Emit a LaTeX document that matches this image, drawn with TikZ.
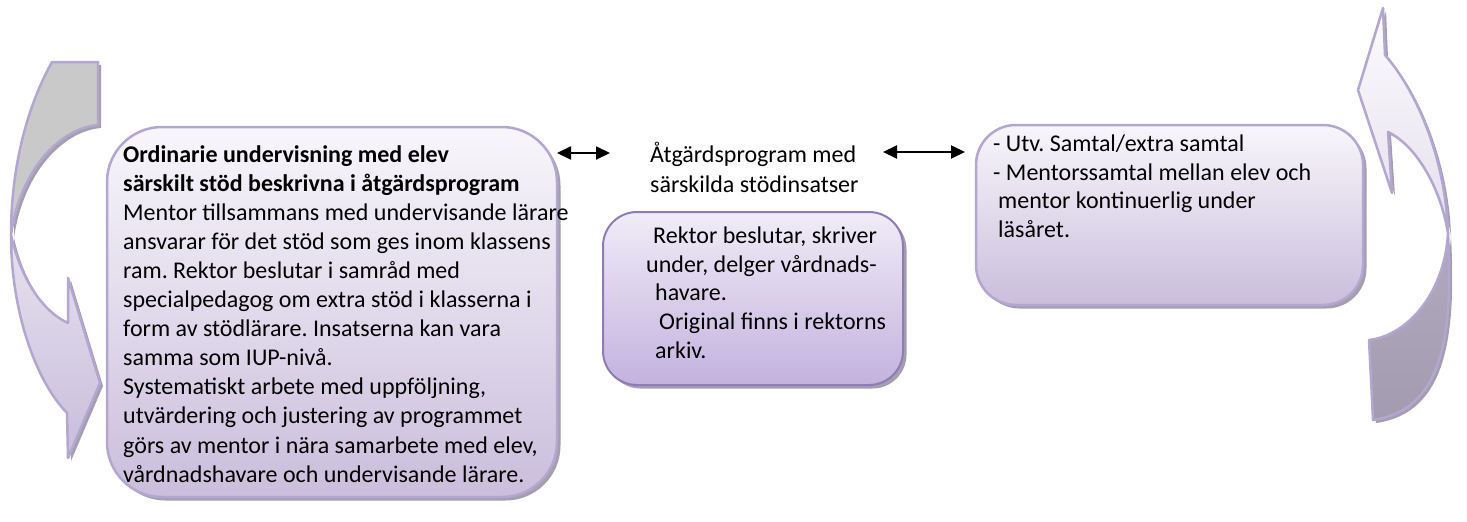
\documentclass[tikz,border=0pt]{standalone}
\usepackage{fontspec}
\setmainfont{Carlito}
\frenchspacing
\usetikzlibrary{arrows.meta,shadows}

\definecolor{bandline}{HTML}{B3A6D0}
\definecolor{shadowc}{HTML}{A49EAE}
\definecolor{backgray}{HTML}{C9C9C9}
\definecolor{lavtop}{HTML}{E6E2EF}
\definecolor{lavbot}{HTML}{C8BDDB}
\definecolor{paletop}{HTML}{FCFBFE}
\definecolor{palebot}{HTML}{E4DFEC}
\definecolor{duskytop}{HTML}{B1A9BD}
\definecolor{duskybot}{HTML}{A39BB0}
\definecolor{boxtop}{HTML}{F8F6FB}
\definecolor{boxbot}{HTML}{CABEDC}
\definecolor{midtop}{HTML}{F0ECF7}
\definecolor{midbot}{HTML}{C3B2DE}
\definecolor{midline}{HTML}{8E7CB8}

\begin{document}
\frenchspacing
\begin{tikzpicture}[x=1pt,y=-1pt,line join=round,
  txt/.style={anchor=base west,inner sep=0pt,font=\fontsize{24}{29}\selectfont\frenchspacing},
  panel/.style={draw=bandline,line width=2.5pt,rounded corners=#1,
    top color=boxtop,bottom color=boxbot,inner sep=0pt,
    drop shadow={shadow xshift=3.5pt,shadow yshift=-3.5pt,fill=shadowc,opacity=1}},
  band/.style={draw=bandline,line width=2.5pt},
  dbl/.style={{Triangle[length=14pt,width=13pt]}-{Triangle[length=14pt,width=13pt]},line width=2pt}]
\useasboundingbox (0,0) rectangle (1467,522);

% ---- left curved arrow (pointing right, into the first panel)
\begin{scope}[shift={(3,3)}]
  \fill[shadowc] (52,62) -- (98,62) -- (98,125) .. controls (60,128) and (20,170) .. (11,235)
    .. controls (20,275) and (40,310) .. (68,323) -- (68,278) -- (100,383) -- (68,458) -- (67,413)
    .. controls (35,380) and (11,310) .. (11,235) .. controls (11,165) and (28,105) .. (52,62) -- cycle;
\end{scope}
\path[band,fill=backgray] (52,62) -- (98,62) -- (98,125) .. controls (60,128) and (20,170) .. (11,235)
  .. controls (11,165) and (28,105) .. (52,62) -- cycle;
\path[band,top color=lavtop,bottom color=lavbot] (11,235) .. controls (20,275) and (40,310) .. (68,323)
  -- (68,278) -- (100,383) -- (68,458) -- (67,413) .. controls (35,380) and (11,310) .. (11,235) -- cycle;

% ---- right curved arrow (pointing back up at the top)
\begin{scope}[shift={(3,3)}]
  \fill[shadowc] (1383,8) -- (1385,55) .. controls (1420,95) and (1446,165) .. (1448,233)
    .. controls (1453,330) and (1445,410) .. (1373,420) -- (1369,340)
    .. controls (1410,335) and (1445,290) .. (1448,233)
    .. controls (1440,185) and (1415,145) .. (1388,132) -- (1392,193) -- (1358,90) -- cycle;
\end{scope}
\path[band,top color=duskytop,bottom color=duskybot] (1448,233) .. controls (1453,330) and (1445,410) .. (1373,420)
  -- (1369,340) .. controls (1410,335) and (1445,290) .. (1448,233) -- cycle;
\path[band,top color=paletop,bottom color=palebot] (1383,8) -- (1385,55) .. controls (1420,95) and (1446,165) .. (1448,233)
  .. controls (1440,185) and (1415,145) .. (1388,132) -- (1392,193) -- (1358,90) -- cycle;

% ---- panels
\node[panel=55pt,minimum width=450pt,minimum height=370pt] (ord) at (332,312) {};
\node[panel=34pt,minimum width=300pt,minimum height=173pt,draw=midline,line width=2pt,
      top color=midtop,bottom color=midbot] (rek) at (753,298.5) {};
\node[panel=40pt,minimum width=387pt,minimum height=180pt] (utv) at (1169.5,215) {};

% ---- text of the first panel
\node[txt,font=\fontsize{24}{29}\selectfont\bfseries] (o1) at (123,162) {Ordinarie undervisning med elev};
\node[txt,font=\fontsize{24}{29}\selectfont\bfseries] (o2) at (123,191.1) {särskilt stöd beskrivna i åtgärdsprogram};
\node[txt] (o3) at (123,220.2) {Mentor tillsammans med undervisande lärare};
\node[txt] (o4) at (123,249.3) {ansvarar för det stöd som ges inom klassens};
\node[txt] (o5) at (123,278.4) {ram. Rektor beslutar i samråd med};
\node[txt] (o6) at (123,307.5) {specialpedagog om extra stöd i klasserna i};
\node[txt] (o7) at (123,336.6) {form av stödlärare. Insatserna kan vara};
\node[txt] (o8) at (123,365.7) {samma som IUP-nivå.};
\node[txt] (o9) at (123,394.8) {Systematiskt arbete med uppföljning,};
\node[txt] (o10) at (123,423.9) {utvärdering och justering av programmet};
\node[txt] (o11) at (123,453) {görs av mentor i nära samarbete med elev,};
\node[txt] (o12) at (123,482.1) {vårdnadshavare och undervisande lärare.};

% ---- heading between the arrows
\node[txt] (h1) at (650,162) {Åtgärdsprogram med};
\node[txt] (h2) at (650,192) {särskilda stödinsatser};

% ---- text of the middle panel
\node[txt] (r1) at (653,243) {Rektor beslutar, skriver};
\node[txt] (r2) at (646,272) {under, delger vårdnads-};
\node[txt] (r3) at (655,300.5) {havare.};
\node[txt] (r4) at (659,329) {Original finns i rektorns};
\node[txt] (r5) at (655,358) {arkiv.};

% ---- text of the right panel
\node[txt] (u1) at (993,151) {- Utv. Samtal/extra samtal};
\node[txt] (u2) at (993,180) {- Mentorssamtal mellan elev och};
\node[txt] (u3) at (998,208.5) {mentor kontinuerlig under};
\node[txt] (u4) at (998,237) {läsåret.};

% ---- double arrows
\coordinate (la) at (557,153);
\coordinate (lb) at (610,153);
\coordinate (ra) at (883,152);
\coordinate (rb) at (965,152);
\draw[dbl] (la) -- (lb);
\draw[dbl] (ra) -- (rb);
\end{tikzpicture}
\end{document}
